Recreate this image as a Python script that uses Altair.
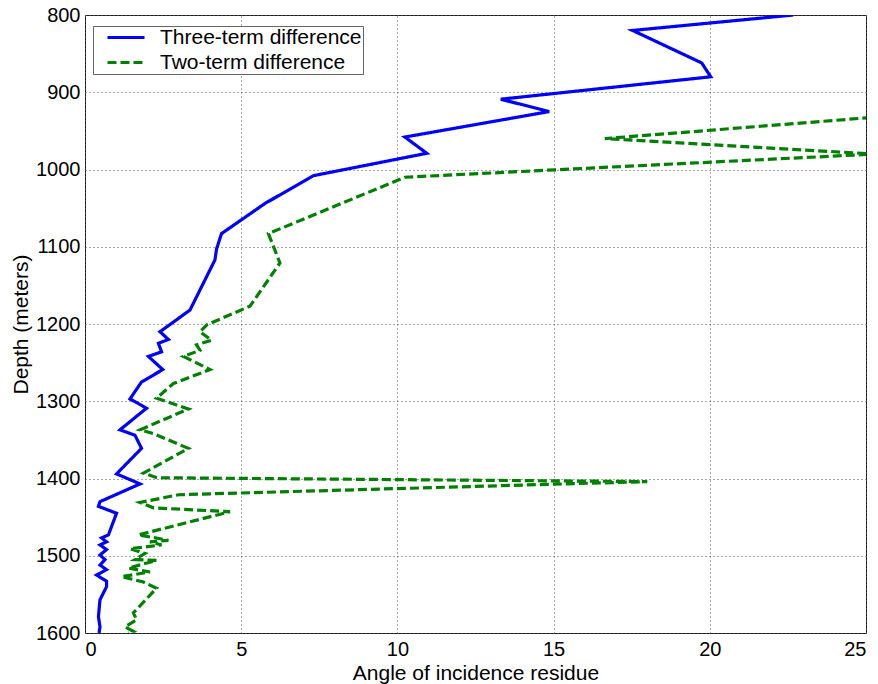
import altair as alt
import pandas as pd

# Series (x = angle of incidence residue, y = depth in metres)
three_x = [22.67, 17.53, 19.74, 20.03, 13.31, 14.86, 10.24, 10.94, 7.31, 5.76,
           4.37, 4.21, 4.16, 3.36, 2.40, 2.67, 2.35, 2.45, 2.03, 2.49,
           1.81, 1.44, 1.97, 1.12, 1.60, 1.81, 1.01, 1.76, 0.48, 0.43,
           1.01, 0.75, 0.53, 0.69, 0.48, 0.69, 0.48, 0.64, 0.48, 0.69,
           0.37, 0.69, 0.69, 0.48, 0.43, 0.48, 0.45]
three_depth = [800, 820, 862, 880, 909, 925, 958, 979, 1008, 1044,
               1083, 1103, 1117, 1182, 1210, 1220, 1225, 1236, 1242, 1259,
               1275, 1297, 1309, 1337, 1344, 1361, 1394, 1407, 1430, 1436,
               1445, 1473, 1477, 1482, 1486, 1492, 1499, 1505, 1512, 1518,
               1525, 1533, 1540, 1557, 1579, 1592, 1600]

two_x = [26.0, 16.64, 25.3, 10.24, 5.87, 6.24, 5.28, 3.90, 3.68, 4.05,
         3.57, 3.68, 3.15, 4.00, 2.83, 2.29, 3.31, 1.76, 2.19, 3.31,
         1.87, 2.30, 18.0, 3.00, 1.76, 2.19, 4.64, 1.71, 2.67, 2.08,
         2.45, 1.44, 1.92, 1.60, 2.29, 1.39, 2.08, 1.17, 1.87, 2.29,
         1.55, 1.65, 1.28, 1.55, 1.40]
two_depth = [930, 960, 980, 1010, 1083, 1121, 1177, 1201, 1210, 1221,
             1227, 1234, 1242, 1259, 1277, 1296, 1310, 1337, 1342, 1361,
             1393, 1399, 1404, 1421, 1431, 1438, 1443, 1473, 1480, 1482,
             1486, 1491, 1497, 1505, 1506, 1516, 1521, 1527, 1534, 1542,
             1574, 1583, 1592, 1598, 1600]

series_names = ["Three-term difference", "Two-term difference"]
series_colors = ["#0000ff", "#008000"]

rows = []
for i, (x, d) in enumerate(zip(three_x, three_depth)):
    rows.append({"series": series_names[0], "angle": x, "depth": d, "idx": i})
for i, (x, d) in enumerate(zip(two_x, two_depth)):
    rows.append({"series": series_names[1], "angle": x, "depth": d, "idx": i})
df = pd.DataFrame(rows)

FONT = "Liberation Sans"
leg = alt.Legend(title=None)

chart = alt.Chart(df).mark_line(clip=True, strokeWidth=3.2).encode(
    x=alt.X("angle:Q",
            scale=alt.Scale(domain=[0, 25], nice=False, zero=False),
            axis=alt.Axis(title="Angle of incidence residue", values=[0, 5, 10, 15, 20, 25],
                          format="d", labelPadding=6, titlePadding=3)),
    y=alt.Y("depth:Q",
            scale=alt.Scale(domain=[800, 1600], nice=False, zero=False, reverse=True),
            axis=alt.Axis(title="Depth (meters)", values=list(range(800, 1601, 100)),
                          format="d", labelPadding=5, titlePadding=4)),
    color=alt.Color("series:N",
                    scale=alt.Scale(domain=series_names, range=series_colors),
                    legend=leg),
    strokeDash=alt.StrokeDash("series:N",
                              scale=alt.Scale(domain=series_names, range=[[1, 0], [9, 4]]),
                              legend=leg),
    order=alt.Order("idx:Q"),
    detail="series:N",
).properties(
    width=781, height=618,
    padding={"left": 85, "top": 15, "right": 12, "bottom": 51},
    autosize="none",
).configure(
    font=FONT,
).configure_view(
    stroke="#1a1a1a", strokeWidth=1,
).configure_axis(
    grid=True, gridDash=[1, 3], gridColor="#555555", gridOpacity=1, gridWidth=1,
    domain=False, ticks=False,
    labelFont=FONT, labelFontSize=20, labelColor="#000000",
    titleFont=FONT, titleFontSize=21, titleColor="#000000", titleFontWeight="normal",
).configure_legend(
    orient="none", legendX=8, legendY=11,
    strokeColor="#666666", fillColor="#ffffff", padding=1,
    labelFont=FONT, labelFontSize=21, labelColor="#000000", labelLimit=0,
    symbolType="M-2.3125,0H2.3125", symbolSize=256, symbolStrokeWidth=3,
    symbolOffset=21.5, labelOffset=23.5, rowPadding=3,
)

chart.save("out.html", embed_options={"renderer": "svg", "actions": False})
